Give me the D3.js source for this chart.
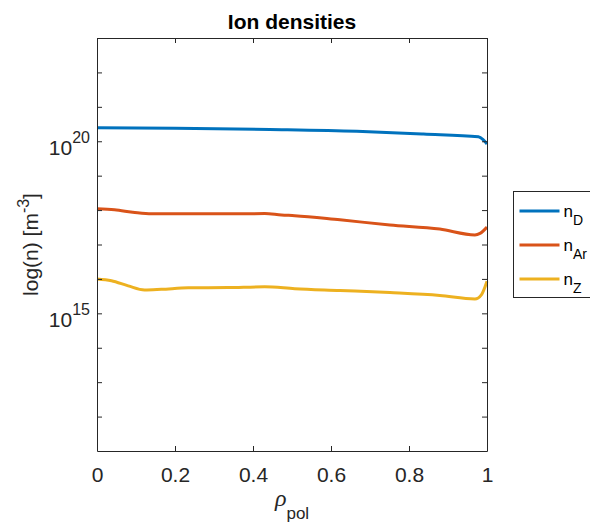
<!DOCTYPE html>
<html>
<head>
<meta charset="utf-8">
<script src="https://cdn.jsdelivr.net/npm/d3@7"></script>
<style>
  body { margin: 0; background: #fff; }
  svg { display: block; font-family: "Liberation Sans", Arial, Helvetica, sans-serif; }
</style>
</head>
<body>
<svg id="chart" width="590" height="524"></svg>
<script>
// Chart size and plot box (MATLAB-like layout)
const svgWidth = 590;
const svgHeight = 524;
const margin = { top: 38, right: 103, bottom: 73, left: 97 };
const width = svgWidth - margin.left - margin.right;
const height = svgHeight - margin.top - margin.bottom;

// Series data: normalised poloidal flux vs density [m^-3]
const rhoD  = [0, 0.2, 0.443, 0.666, 0.837, 0.978, 0.99, 1];
const nD    = [2.45e20, 2.4e20, 2.2e20, 1.95e20, 1.62e20, 1.35e20, 1.12e20, 8.3e19];

const rhoAr = [0, 0.045, 0.097, 0.14, 0.207, 0.294, 0.43, 0.473, 0.507, 0.623, 0.751, 0.879, 0.969, 0.982, 1];
const nAr   = [1.1e18, 1.02e18, 8.5e17, 7.8e17, 7.8e17, 7.8e17, 7.9e17, 7.2e17, 6.9e17, 5.2e17, 3.7e17, 2.8e17, 1.9e17, 2.1e17, 3.2e17];

const rhoZ  = [0, 0.037, 0.08, 0.122, 0.165, 0.234, 0.336, 0.43, 0.507, 0.623, 0.751, 0.879, 0.969, 0.986, 1];
const nZ    = [1.0e16, 8.9e15, 6.3e15, 4.8e15, 5.0e15, 5.5e15, 5.6e15, 5.9e15, 5.2e15, 4.6e15, 4.0e15, 3.3e15, 2.6e15, 3.5e15, 8.5e15];

const seriesNames = ["D", "Ar", "Z"];
const colors = ["#0072BD", "#D95319", "#EDB120"];

// Tick values
const xTicks = [0, 0.2, 0.4, 0.6, 0.8, 1];
const yTicks = [1e12, 1e13, 1e14, 1e15, 1e16, 1e17, 1e18, 1e19, 1e20, 1e21, 1e22];
const yLabelTicks = [15, 20];

const axisColor = "#262626";

const svg = d3.select("#chart");
const chart = svg.append("g").attr("transform", "translate(" + margin.left + "," + margin.top + ")");

// Scales
const xScale = d3.scaleLinear().domain([0, 1]).range([0, width]);
const yScale = d3.scaleLog().domain([1e11, 1e23]).range([height, 0]);

// Data lines
const series = [
  { rho: rhoD, n: nD },
  { rho: rhoAr, n: nAr },
  { rho: rhoZ, n: nZ }
];

const line = d3.line()
  .x(d => xScale(d[0]))
  .y(d => yScale(d[1]))
  .curve(d3.curveMonotoneX);

series.forEach(function(s, i) {
  const pts = s.rho.map((r, j) => [r, s.n[j]]);
  chart.append("path")
    .datum(pts)
    .attr("fill", "none")
    .attr("stroke", colors[i])
    .attr("stroke-width", 3)
    .attr("stroke-linejoin", "round")
    .attr("d", line);
});

// Axes, ticks point inward on all four sides
function styleAxis(g) {
  g.selectAll("path").attr("stroke", axisColor);
  g.selectAll("line").attr("stroke", axisColor);
  g.selectAll("text").attr("fill", axisColor).style("font-size", "21px").style("font-family", "inherit");
}

chart.append("g")
  .attr("transform", "translate(0," + height + ")")
  .call(d3.axisBottom(xScale).tickValues(xTicks).tickFormat(d3.format("")).tickSizeInner(-5).tickSizeOuter(0).tickPadding(16))
  .call(styleAxis);

chart.append("g")
  .call(d3.axisTop(xScale).tickValues(xTicks).tickFormat("").tickSizeInner(-5).tickSizeOuter(0))
  .call(styleAxis);

chart.append("g")
  .call(d3.axisLeft(yScale).tickValues(yTicks).tickFormat("").tickSizeInner(-5).tickSizeOuter(0))
  .call(styleAxis);

chart.append("g")
  .attr("transform", "translate(" + width + ",0)")
  .call(d3.axisRight(yScale).tickValues(yTicks).tickFormat("").tickSizeInner(-5).tickSizeOuter(0))
  .call(styleAxis);

// y tick labels as 10^k
yLabelTicks.forEach(function(k) {
  const y = yScale(Math.pow(10, k));
  const t = chart.append("text")
    .attr("x", -7)
    .attr("y", y + 14)
    .attr("text-anchor", "end")
    .attr("fill", axisColor)
    .style("font-size", "21px");
  t.append("tspan").text("10");
  t.append("tspan").attr("dy", -12).style("font-size", "16px").text(String(k));
});

// Title
svg.append("text")
  .attr("x", margin.left + width / 2)
  .attr("y", 29)
  .attr("text-anchor", "middle")
  .style("font-size", "21px")
  .style("font-weight", "bold")
  .attr("fill", "#000")
  .text("Ion densities");

// y label
const yLab = svg.append("text")
  .attr("transform", "translate(38," + (margin.top + height / 2) + ") rotate(-90)")
  .attr("text-anchor", "middle")
  .attr("fill", axisColor)
  .style("font-size", "21px");
yLab.append("tspan").text("log(n) [m");
yLab.append("tspan").attr("dy", -9).style("font-size", "16px").text("-3");
yLab.append("tspan").attr("dy", 9).text("]");

// x label: rho_pol
const xLab = svg.append("text")
  .attr("x", margin.left + width / 2)
  .attr("y", 506)
  .attr("text-anchor", "middle")
  .attr("fill", axisColor);
xLab.append("tspan")
  .style("font-family", "'Liberation Serif', 'Times New Roman', serif")
  .style("font-style", "italic")
  .style("font-size", "24px")
  .text("ρ");
xLab.append("tspan").attr("dy", 13).style("font-size", "17px").text("pol");

// Legend (runs off the right edge like the original)
const legend = svg.append("g").attr("transform", "translate(513.5,191.5)");
legend.append("rect")
  .attr("width", 110)
  .attr("height", 106)
  .attr("fill", "#fff")
  .attr("stroke", axisColor)
  .attr("stroke-width", 1);

seriesNames.forEach(function(name, i) {
  const y = 19.5 + i * 34;
  legend.append("line")
    .attr("x1", 6).attr("x2", 46)
    .attr("y1", y).attr("y2", y)
    .attr("stroke", colors[i])
    .attr("stroke-width", 3);
  const t = legend.append("text")
    .attr("x", 50)
    .attr("y", y + 6)
    .attr("fill", "#000")
    .style("font-size", "17px");
  t.append("tspan").text("n");
  t.append("tspan").attr("dy", 8).style("font-size", "14px").text(name);
});
</script>
</body>
</html>
